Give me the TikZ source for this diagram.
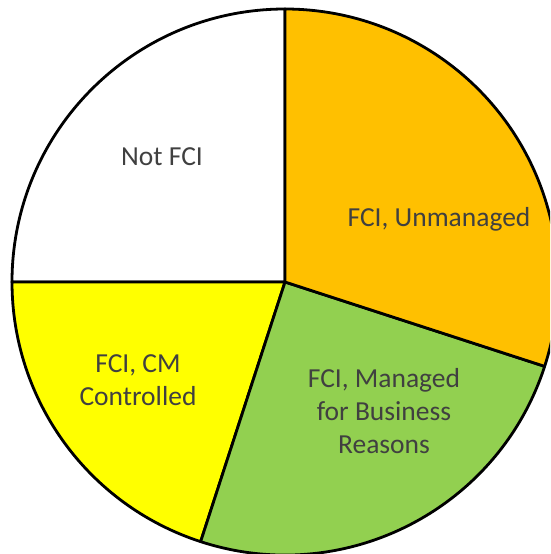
\documentclass[tikz,border=0pt]{standalone}
\usepackage{fontspec}
\setmainfont{Carlito}
\definecolor{cmyel}{RGB}{255,255,0}
\definecolor{mangreen}{RGB}{146,208,80}
\definecolor{unmorange}{RGB}{255,192,0}
\definecolor{txtgray}{RGB}{64,64,64}
\begin{document}
\begin{tikzpicture}[x=1pt,y=1pt,
  slice/.style={draw=black,line width=2.8pt,line join=round},
  lbl/.style={text=txtgray,font=\fontsize{27.5}{33}\selectfont,align=center}]
\useasboundingbox (0,-554) rectangle (550,0);
\coordinate (c) at (285,-282);
\def\R{273}
\begin{scope}
\clip (0,-554) rectangle (550,0);
\filldraw[slice,fill=white] (c) -- ++(90:\R) arc[start angle=90,end angle=180,radius=\R] -- cycle;
\filldraw[slice,fill=cmyel] (c) -- ++(180:\R) arc[start angle=180,end angle=252,radius=\R] -- cycle;
\filldraw[slice,fill=mangreen] (c) -- ++(252:\R) arc[start angle=252,end angle=342,radius=\R] -- cycle;
\filldraw[slice,fill=unmorange] (c) -- ++(342:\R) arc[start angle=342,end angle=450,radius=\R] -- cycle;
\end{scope}
\node[lbl] (notfci) at (162,-157) {Not FCI};
\node[lbl] (unm) at (439,-219) {FCI, Unmanaged};
\node[lbl] (man) at (384,-411) {FCI, Managed\\for Business\\Reasons};
\node[lbl] (cm) at (138,-380) {FCI, CM\\Controlled};
\end{tikzpicture}
\end{document}
